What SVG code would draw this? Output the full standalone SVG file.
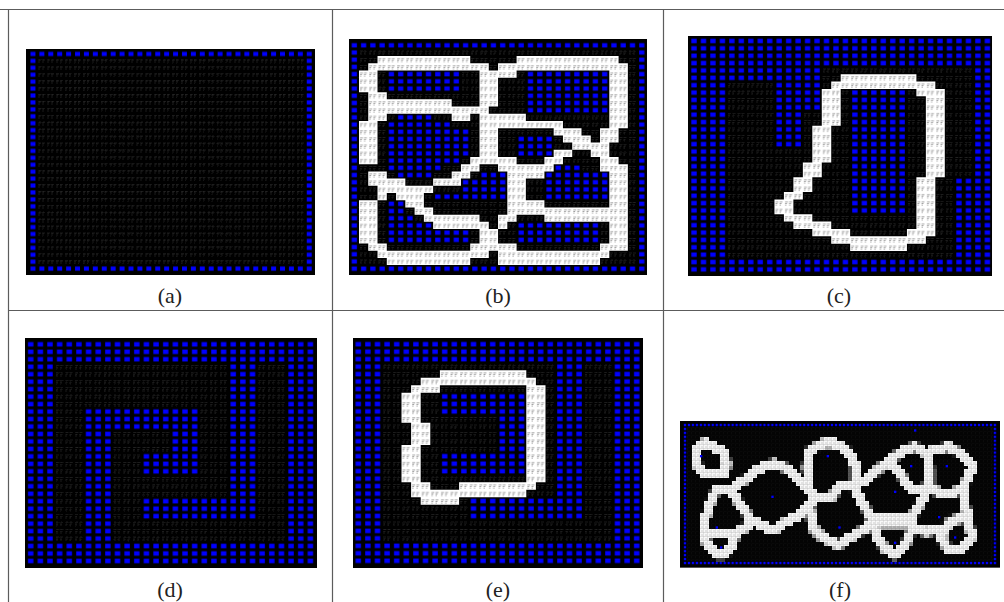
<svg xmlns="http://www.w3.org/2000/svg" width="1004" height="602" viewBox="0 0 1004 602">
<style>
.b{fill:url(#b)}.d{fill:url(#d)}.w{fill:url(#w)}
.l{stroke:#5c5c5c;stroke-width:1.2;fill:none}
.t{font-family:"Liberation Serif",serif;font-size:22px;fill:#222;text-anchor:middle}
.fs{fill:none;stroke:#fff;stroke-width:26;stroke-linejoin:round;stroke-linecap:round}
</style>
<defs>
<filter id="s" x="-2%" y="-2%" width="104%" height="104%"><feGaussianBlur stdDeviation="0.15"/></filter>
<filter id="px" filterUnits="userSpaceOnUse" primitiveUnits="userSpaceOnUse" x="680" y="421" width="320" height="147" color-interpolation-filters="sRGB">
<feFlood x="682" y="423" width="1" height="1" flood-color="#fff"/>
<feComposite width="4" height="4"/>
<feTile result="a"/>
<feComposite in="SourceGraphic" in2="a" operator="in"/>
<feMorphology operator="dilate" radius="2"/>
</filter>
<pattern id="b" patternUnits="userSpaceOnUse" width="1" height="1"><rect width="1" height="1" fill="#000"/><rect x=".22" y=".2" width=".56" height=".6" fill="#0000ff"/></pattern>
<pattern id="d" patternUnits="userSpaceOnUse" width="1" height="1"><rect width="1" height="1" fill="#000"/><path fill="#2c2c2c" d="M.12 .28h.3v.1h-.3zM.55 .28h.3v.1h-.3zM.12 .5h.2v.1h-.2zM.55 .5h.2v.1h-.2zM.12 .7h.14v.1h-.14zM.55 .7h.14v.1h-.14z"/></pattern>
<pattern id="w" patternUnits="userSpaceOnUse" width="1" height="1"><rect width="1" height="1" fill="#fff"/><path fill="#808080" d="M.12 .3h.3v.1h-.3zM.55 .3h.3v.1h-.3zM.12 .52h.2v.1h-.2zM.55 .52h.2v.1h-.2zM.12 .72h.14v.1h-.14zM.55 .72h.14v.1h-.14z"/></pattern>
<pattern id="fb" patternUnits="userSpaceOnUse" x="24" y="24" width="11.92" height="11.83"><rect width="12" height="12" fill="#000"/><rect x="2.5" y="2.5" width="7" height="7" fill="#0000ff"/></pattern>
<pattern id="fd" patternUnits="userSpaceOnUse" x="24" y="24" width="12" height="12"><rect width="12" height="12" fill="#040404"/><path fill="#181818" d="M2 2h8v1h-8zM2 2h1v8h-1z"/></pattern>
<pattern id="fw" patternUnits="userSpaceOnUse" x="680" y="421" width="4" height="4"><rect width="4" height="4" fill="#f8f8f8"/><path fill="#c0c0c0" d="M0 3.6h4v.4h-4zM3.6 0h.4v4h-.4z"/><path fill="#b0b0b0" d="M1.4 1.4h1.2v1.2h-1.2z"/></pattern>
<mask id="fm" maskUnits="userSpaceOnUse" x="680" y="421" width="320" height="147">
<g filter="url(#px)"><g transform="translate(675 415) scale(.33333)">
<path class="fs" d="M90 83L125 100L150 115L155 150L150 175L90 178L68 150L65 105Z"/>
<path class="fs" d="M125 222L170 222L215 190L255 160L295 145L335 160L375 195L405 225L425 250L400 275L375 300L335 320L295 345L255 330L225 310L190 260L175 235"/>
<path class="fs" d="M125 222L105 265L85 330L95 385L125 420L150 420L175 385L180 360L220 330L225 310M100 360L180 355"/>
<path class="fs" d="M405 225L395 160L400 110L445 85L480 85L520 110L540 150L540 210L500 210L470 245L430 250"/>
<path class="fs" d="M405 275L410 335L440 365L490 390L530 365L580 335L590 310L540 225"/>
<path class="fs" d="M540 210L575 195L625 150L680 110L720 95L755 115L765 160L765 215L710 225L670 170L640 140M765 110L820 95L865 120L895 155L880 180L865 225L815 235L765 225"/>
<path class="fs" d="M865 235L875 290L880 310L830 315L805 345L750 350L715 335L715 300L750 240M590 312L710 312M590 325L710 325M590 310L605 370L630 400L660 420L695 380L715 335"/>
<path class="fs" d="M880 315L890 365L860 405L825 405L800 375L805 345"/>
<path fill="#fff" d="M625 140L670 110L655 165Z"/>
</g></g>
</mask>
</defs>
<rect width="1004" height="602" fill="#fff"/>
<g id="table">
<path class="l" d="M0 9.5H1004M8.5 9V602M332.5 9V602M663.5 9V602M8 310.5H1004"/>
</g>

<g id="panel-a" filter="url(#s)">
<rect x="26" y="49" width="289" height="226" fill="#000"/>
<svg x="28.5" y="50.5" width="285.2" height="221.6" viewBox="0 0 32 32" preserveAspectRatio="none">
<rect class="b" width="32" height="32"/>
<rect class="d" x="1" y="1" width="30" height="30"/>
</svg>
</g>
<text class="t" x="170" y="303">(a)</text>

<g id="panel-b" filter="url(#s)">
<rect x="349" y="39" width="298" height="236" fill="#000"/>
<svg x="349.7" y="41.7" width="296.7" height="230.6" viewBox="0 0 32 32" preserveAspectRatio="none">
<rect class="b" width="32" height="32"/>
<rect class="d" x="1" y="1" width="30" height="30"/>
<path class="b" d="M4 4h8v3h-8zM5 10h4v1h-4zM4 11h7v1h-7zM4 12h9v4h-9zM4 16h8v1h-8zM4 17h6v1h-6zM5 18h4v1h-4zM19 4h9v6h-9zM18 13h4v3h-4zM22 17h3v1h-3zM21 18h7v4h-7zM14 18h3v1h-3zM12 19h5v2h-5zM9 21h8v1h-8zM4 22h2v2h-2zM4 24h3v1h-3zM4 25h5v1h-5zM4 26h9v2h-9zM18 25h9v3h-9z"/>
<path class="w" d="M3 2h10v1h-10zM18 2h11v1h-11zM2 3h13v1h-13zM16 3h14v1h-14zM1 4h2v1h-2zM14 4h4v1h-4zM28 4h2v1h-2zM1 5h2v2h-2zM14 5h2v2h-2zM28 5h2v6h-2zM2 7h2v1h-2zM14 7h2v1h-2zM2 8h9v1h-9zM14 8h2v1h-2zM2 9h13v1h-13zM2 10h2v1h-2zM11 10h2v1h-2zM14 10h5v1h-5zM1 11h2v1h-2zM14 11h9v1h-9zM28 11h2v1h-2zM1 12h2v5h-2zM14 12h2v4h-2zM22 12h3v1h-3zM27 12h2v2h-2zM23 13h3v1h-3zM24 14h4v1h-4zM22 15h2v1h-2zM26 15h2v1h-2zM13 16h5v1h-5zM21 16h2v1h-2zM27 16h2v1h-2zM12 17h2v1h-2zM16 17h6v1h-6zM27 17h3v1h-3zM2 18h2v1h-2zM11 18h2v1h-2zM17 18h4v1h-4zM28 18h2v6h-2zM2 19h4v1h-4zM9 19h3v1h-3zM17 19h2v3h-2zM3 20h6v1h-6zM3 21h1v1h-1zM5 21h3v1h-3zM1 22h2v6h-2zM6 22h2v1h-2zM17 22h4v1h-4zM7 23h2v1h-2zM17 23h13v1h-13zM8 24h6v1h-6zM16 24h2v1h-2zM21 24h9v1h-9zM9 25h6v1h-6zM16 25h1v1h-1zM28 25h2v3h-2zM14 26h2v2h-2zM2 28h2v1h-2zM13 28h5v1h-5zM27 28h3v1h-3zM3 29h12v1h-12zM16 29h12v1h-12zM4 30h9v1h-9zM16 30h11v1h-11z"/>
</svg>
</g>
<text class="t" x="498" y="303">(b)</text>

<g id="panel-c" filter="url(#s)">
<rect x="688" y="36" width="304" height="240" fill="#000"/>
<svg x="689.3" y="37.3" width="302.8" height="235.8" viewBox="0 0 32 32" preserveAspectRatio="none">
<rect class="b" width="32" height="32"/>
<path class="d" d="M14 4H30V19H28V30H4V6H9V15H12V10H14Z"/>
<rect class="b" x="17" y="7" width="6" height="17"/>
<path class="w" d="M16 5h8v1h-8zM15 6h11v1h-11zM14 7h2v5h-2zM24 7h3v1h-3zM25 8h2v11h-2zM13 12h2v5h-2zM12 17h2v2h-2zM11 19h2v2h-2zM24 19h2v7h-2zM10 21h2v1h-2zM9 22h2v2h-2zM10 24h3v1h-3zM11 25h4v1h-4zM13 26h4v1h-4zM23 26h3v1h-3zM15 27h10v1h-10zM17 28h6v1h-6z"/>
</svg>
</g>
<text class="t" x="839" y="303">(c)</text>

<g id="panel-d" filter="url(#s)">
<rect x="25" y="338" width="292" height="230" fill="#000"/>
<svg x="25.9" y="340.6" width="289.3" height="224.1" viewBox="0 0 30 30" preserveAspectRatio="none">
<rect class="b" width="30" height="30"/>
<rect class="d" x="3" y="3" width="24" height="24"/>
<path class="b" d="M21 3h3v21h-3zM12 21h9v3h-9zM6 9h3v18h-3zM9 9h9v3h-9zM15 12h3v6h-3zM12 15h3v3h-3z"/>
</svg>
</g>
<text class="t" x="170" y="597">(d)</text>

<g id="panel-e" filter="url(#s)">
<rect x="353" y="338" width="290" height="230" fill="#000"/>
<svg x="353.5" y="340.5" width="288" height="224" viewBox="0 0 30 30" preserveAspectRatio="none">
<rect class="b" width="30" height="30"/>
<rect class="d" x="3" y="3" width="24" height="24"/>
<path class="b" d="M21 3h3v21h-3zM12 21h9v3h-9zM9 7h9v3h-9zM15 10h3v8h-3zM9 15h6v3h-6z"/>
<path class="w" d="M9 4h9v1h-9zM7 5h12v1h-12zM6 6h3v1h-3zM18 6h2v13h-2zM5 7h2v4h-2zM6 11h2v3h-2zM5 14h2v5h-2zM6 19h2v1h-2zM11 19h8v1h-8zM6 20h12v1h-12zM7 21h4v1h-4z"/>
</svg>
</g>
<text class="t" x="498" y="597">(e)</text>

<g id="panel-f">
<g transform="translate(675 415) scale(.33333)">
<rect x="15" y="18" width="960" height="440" fill="#000"/>
<rect x="24" y="24" width="942" height="426" fill="url(#fb)"/>
<rect x="36" y="36" width="918" height="402" fill="url(#fd)"/>
</g>
<rect x="680" y="421" width="320" height="147" fill="url(#fw)" mask="url(#fm)"/>
<g transform="translate(675 415) scale(.33333)" fill="#0000ff"><rect x="75" y="120" width="7" height="7"/><rect x="455" y="120" width="7" height="7"/><rect x="705" y="150" width="7" height="7"/><rect x="812" y="150" width="7" height="7"/><rect x="289" y="242" width="7" height="7"/><rect x="657" y="227" width="7" height="7"/><rect x="789" y="303" width="7" height="7"/><rect x="122" y="334" width="7" height="7"/><rect x="490" y="334" width="7" height="7"/><rect x="837" y="364" width="7" height="7"/><rect x="657" y="380" width="7" height="7"/><rect x="135" y="394" width="7" height="7"/><rect x="717" y="43" width="7" height="7"/></g>
</g>
<text class="t" x="840" y="597">(f)</text>
</svg>
